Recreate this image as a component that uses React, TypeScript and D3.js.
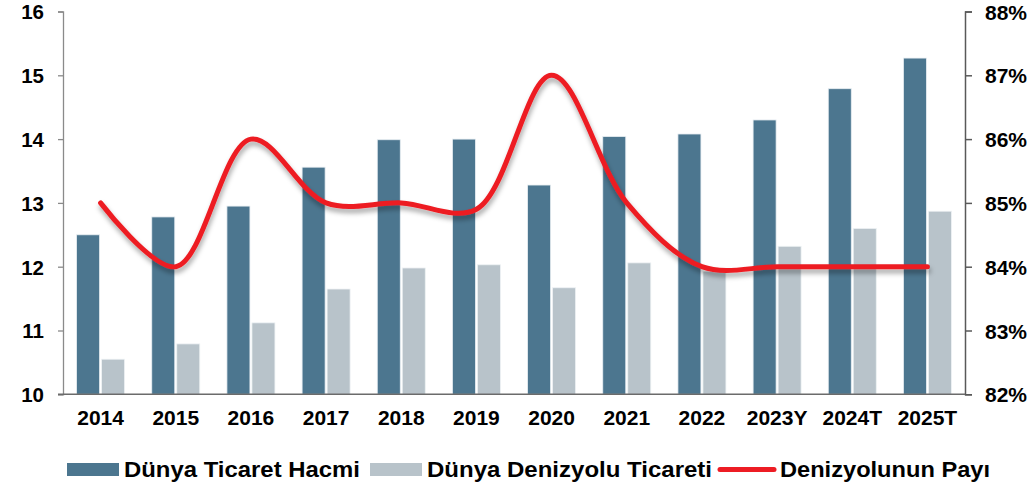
import React, { useEffect, useRef } from 'react';
import * as d3 from 'd3';

const categories = ['2014', '2015', '2016', '2017', '2018', '2019', '2020', '2021', '2022', '2023Y', '2024T', '2025T'];
const tradeVolume = [12.5, 12.78, 12.95, 13.56, 13.99, 14.0, 13.28, 14.04, 14.08, 14.3, 14.79, 15.27];
const seaTrade = [10.55, 10.79, 11.12, 11.65, 11.98, 12.03, 11.67, 12.06, 11.93, 12.32, 12.6, 12.87];
const seaShare = [85, 84, 86, 85, 85, 84.9, 87, 85, 84, 84, 84, 84];
const leftTicks = [10, 11, 12, 13, 14, 15, 16];
const rightTicks = [82, 83, 84, 85, 86, 87, 88];
const seriesNames = ['Dünya Ticaret Hacmi', 'Dünya Denizyolu Ticareti', 'Denizyolunun Payı'];

const W = 1032;
const H = 487;
const FONT = '"Liberation Sans", Arial, sans-serif';
const DARK = '#4c768f';
const LIGHT = '#b8c3ca';
const RED = '#ed1c24';

export default function App() {
  const svgRef = useRef<SVGSVGElement>(null);

  useEffect(() => {
    const svg = d3.select(svgRef.current);
    svg.selectAll('*').remove();

    const left = 63;
    const right = 965;
    const top = 11.5;
    const bottom = 394.3;

    const x0 = d3.scaleBand().domain(categories).range([left, right]).padding(0);
    const x1 = d3
      .scaleBand()
      .domain(['vol', 'sea'])
      .range([13.6, 61.6])
      .paddingInner(0.08);
    const y = d3.scaleLinear().domain([10, 16]).range([bottom, top]);
    const yR = d3.scaleLinear().domain([82, 88]).range([bottom, top]);

    const defs = svg.append('defs');
    const f = defs.append('filter').attr('id', 'shadow').attr('x', '-10%').attr('y', '-20%').attr('width', '120%').attr('height', '150%');
    f.append('feDropShadow')
      .attr('dx', 1)
      .attr('dy', 4)
      .attr('stdDeviation', 2.5)
      .attr('flood-color', '#000')
      .attr('flood-opacity', 0.35);

    // bars
    const rows = categories.map((c, i) => ({ c, vol: tradeVolume[i], sea: seaTrade[i] }));
    const g = svg.append('g');
    g.selectAll('rect.vol')
      .data(rows)
      .join('rect')
      .attr('class', 'vol')
      .attr('x', (d) => x0(d.c)! + x1('vol')!)
      .attr('width', x1.bandwidth())
      .attr('y', (d) => y(d.vol))
      .attr('height', (d) => bottom - y(d.vol))
      .attr('fill', DARK)
      .attr('stroke', '#e8eef2')
      .attr('stroke-width', 0.8);
    g.selectAll('rect.sea')
      .data(rows)
      .join('rect')
      .attr('class', 'sea')
      .attr('x', (d) => x0(d.c)! + x1('sea')!)
      .attr('width', x1.bandwidth())
      .attr('y', (d) => y(d.sea))
      .attr('height', (d) => bottom - y(d.sea))
      .attr('fill', LIGHT)
      .attr('stroke', '#eef2f4')
      .attr('stroke-width', 0.8);

    // axes
    const axL = svg
      .append('g')
      .attr('transform', `translate(${left},0)`)
      .call(d3.axisLeft(y).tickValues(leftTicks).tickSize(5).tickSizeOuter(5).tickPadding(14).tickFormat(d3.format('d')));
    axL.select('.domain').attr('stroke', '#8a8a8a').attr('stroke-width', 1.3);
    axL.selectAll('.tick line').attr('stroke', '#8a8a8a').attr('stroke-width', 1.3);
    axL.selectAll('.tick text')
      .attr('font-family', FONT)
      .attr('font-weight', 'bold')
      .attr('font-size', 20.5)
      .attr('fill', '#000')
      .attr('dy', '0.36em');

    const axR = svg
      .append('g')
      .attr('transform', `translate(${right},0)`)
      .call(d3.axisRight(yR).tickValues(rightTicks).tickSize(7).tickSizeOuter(7).tickPadding(13).tickFormat((d) => `${d}%`));
    axR.select('.domain').attr('stroke', '#595959').attr('stroke-width', 1.5);
    axR.selectAll('.tick line').attr('stroke', '#595959').attr('stroke-width', 1.5);
    axR.selectAll('.tick text')
      .attr('font-family', FONT)
      .attr('font-weight', 'bold')
      .attr('font-size', 21)
      .attr('fill', '#000')
      .attr('dy', '0.36em');

    const axB = svg
      .append('g')
      .attr('transform', `translate(0,${bottom})`)
      .call(d3.axisBottom(x0).tickSize(0).tickSizeOuter(0).tickPadding(16));
    axB.select('.domain').remove();
    axB.selectAll('.tick text')
      .attr('font-family', FONT)
      .attr('font-weight', 'bold')
      .attr('font-size', 21)
      .attr('fill', '#000')
      .attr('dy', '0.69em');
    svg
      .append('line')
      .attr('x1', left - 5)
      .attr('x2', right)
      .attr('y1', bottom)
      .attr('y2', bottom)
      .attr('stroke', '#6b6b6b')
      .attr('stroke-width', 1.5);

    // red line
    const line = d3
      .line<number>()
      .x((_, i) => x0(categories[i])! + x0.bandwidth() / 2)
      .y((d) => yR(d))
      .curve(d3.curveCatmullRom.alpha(0.5));
    svg
      .append('path')
      .datum(seaShare)
      .attr('d', line)
      .attr('fill', 'none')
      .attr('stroke', RED)
      .attr('stroke-width', 5)
      .attr('stroke-linecap', 'round')
      .attr('stroke-linejoin', 'round')
      .attr('filter', 'url(#shadow)');

    // legend
    const lg = svg.append('g');
    const items = [
      { kind: 'rect', color: DARK, x: 67, tx: 124, tw: 236 },
      { kind: 'rect', color: LIGHT, x: 370, tx: 427, tw: 285 },
      { kind: 'line', color: RED, x: 720, tx: 780, tw: 210 },
    ];
    items.forEach((it, i) => {
      if (it.kind === 'rect') {
        lg.append('rect').attr('x', it.x).attr('y', 463).attr('width', 52).attr('height', 13).attr('fill', it.color);
      } else {
        lg.append('line')
          .attr('x1', it.x)
          .attr('x2', it.x + 54)
          .attr('y1', 469.5)
          .attr('y2', 469.5)
          .attr('stroke', it.color)
          .attr('stroke-width', 5)
          .attr('stroke-linecap', 'round');
      }
      lg.append('text')
        .attr('x', it.tx)
        .attr('y', 477)
        .attr('font-family', FONT)
        .attr('font-weight', 'bold')
        .attr('font-size', 22)
        .attr('fill', '#000')
        .attr('textLength', it.tw)
        .attr('lengthAdjust', 'spacingAndGlyphs')
        .text(seriesNames[i]);
    });
  }, []);

  return (
    <svg
      ref={svgRef}
      width={W}
      height={H}
      style={{ position: 'absolute', left: 0, top: 0, background: '#fff' }}
    />
  );
}
